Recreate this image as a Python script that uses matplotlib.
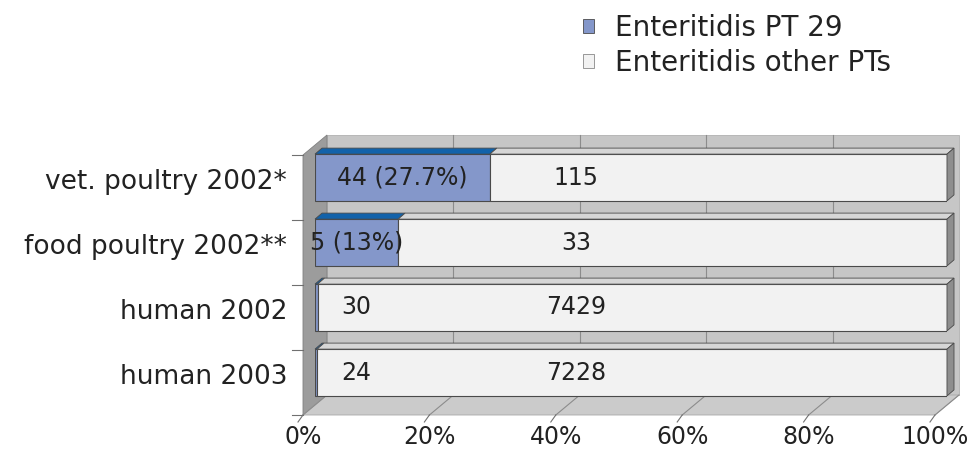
import matplotlib
matplotlib.use("Agg")
import matplotlib.pyplot as plt
from matplotlib.patches import Polygon, Patch

# data
categories = ["vet. poultry 2002*", "food poultry 2002**", "human 2002", "human 2003"]
pt29 = [44, 5, 30, 24]
other = [115, 33, 7429, 7228]
pt29_labels = ["44 (27.7%)", "5 (13%)", "30", "24"]
other_labels = ["115", "33", "7429", "7228"]
legend_labels = ["Enteritidis PT 29", "Enteritidis other PTs"]
xticks = [0, 20, 40, 60, 80, 100]
xtick_labels = ["0%", "20%", "40%", "60%", "80%", "100%"]

blue = "#8497ca"
blue_top = "#1262aa"
white = "#f2f2f2"
white_top = "#d6d6d6"
side = "#8e8e8e"
wall = "#c6c6c6"
side_wall = "#9c9c9c"
floor_c = "#cbcbcb"
edge = "#4a4a4a"

fig = plt.figure(figsize=(9.73, 4.5), dpi=100)
ax = fig.add_axes([315 / 973, 45 / 450, 632 / 973, 260 / 450])
ax.set_xlim(0, 100)
ax.set_ylim(3.5, -0.5)
ax.axis("off")

# pixel -> data helpers (x: 6.32 px per %, y: 65 px per category, up is negative)
def px(dx, dy):
    return dx / 6.32, -dy / 65.0

W = px(12, 10)     # back wall offset
F = px(-12, -10)   # floor front offset
B = px(7, 6)       # bar depth
top, bot = -0.5, 3.5

def poly(pts, color, z, lw=0.8, ec=edge):
    ax.add_patch(Polygon(pts, closed=True, facecolor=color, edgecolor=ec,
                         linewidth=lw, zorder=z, clip_on=False))

def off(x, y, o):
    return (x + o[0], y + o[1])

# back wall
poly([off(0, top, W), off(100, top, W), off(100, bot, W), off(0, bot, W)], wall, 1, lw=0.6, ec="#b0b0b0")
for t in xticks[1:-1]:
    ax.plot([t + W[0], t + W[0]], [top + W[1], bot + W[1]], color="#8c8c8c", lw=0.8, zorder=1.5, clip_on=False)
# left side wall
poly([off(0, top, W), off(0, bot, W), off(0, bot, F), off(0, top, F)], side_wall, 2, lw=0.6, ec="#808080")
# floor
poly([off(0, bot, W), off(100, bot, W), off(100, bot, F), off(0, bot, F)], floor_c, 2, lw=0.6, ec="#a8a8a8")
for t in xticks:
    a = off(t, bot, W)
    b = off(t, bot, F)
    ax.plot([a[0], b[0]], [a[1], b[1]], color="#8c8c8c", lw=0.8, zorder=2.2, clip_on=False)
    c = off(b[0], b[1], px(-5, -7))
    ax.plot([b[0], c[0]], [b[1], c[1]], color="#707070", lw=0.8, zorder=2.2, clip_on=False)
# category ticks on the side wall edge
for k in range(len(categories) + 1):
    a = off(0, top + k, F)
    ax.plot([a[0] - 1.8, a[0]], [a[1], a[1]], color="#707070", lw=0.8, zorder=2.2, clip_on=False)

# bars
h = 0.72
for i in range(len(categories)):
    total = pt29[i] + other[i]
    p = pt29[i] / total * 100
    segs = [(0, p, blue, blue_top), (p, 100, white, white_top)]
    for l, r, fc, tc in segs:
        ax.barh(i, r - l, left=l, height=h, color=fc, edgecolor=edge, linewidth=0.8, zorder=5)
        y0 = i - h / 2
        poly([(l, y0), (r, y0), off(r, y0, B), off(l, y0, B)], tc, 5, lw=0.6)
    y0, y1 = i - h / 2, i + h / 2
    poly([(100, y0), off(100, y0, B), off(100, y1, B), (100, y1)], side, 5, lw=0.6)
    ax.text(max(p / 2, 6.6), i, pt29_labels[i], ha="center", va="center",
            fontsize=17, color="#222222", zorder=6)
    ax.text(41.3, i, other_labels[i], ha="center", va="center",
            fontsize=17, color="#222222", zorder=6)
    ax.text(px(-28, 0)[0], i + 0.07, categories[i], ha="right", va="center",
            fontsize=19, color="#222222")

for t, lab in zip(xticks, xtick_labels):
    ax.text(t + F[0], bot + 20 / 65, lab, ha="center", va="top", fontsize=17, color="#222222")

handles = [Patch(facecolor=blue, edgecolor=edge, linewidth=0.6),
           Patch(facecolor=white, edgecolor="#888888", linewidth=0.6)]
fig.legend(handles, legend_labels, loc="upper left", bbox_to_anchor=(583 / 973, 1 - 14 / 450),
           frameon=False, fontsize=20, handlelength=0.4, handleheight=0.4,
           handletextpad=0.75, labelspacing=0.25, borderpad=0, borderaxespad=0,
           labelcolor="#222222")

fig.savefig("out.png", dpi=100)
